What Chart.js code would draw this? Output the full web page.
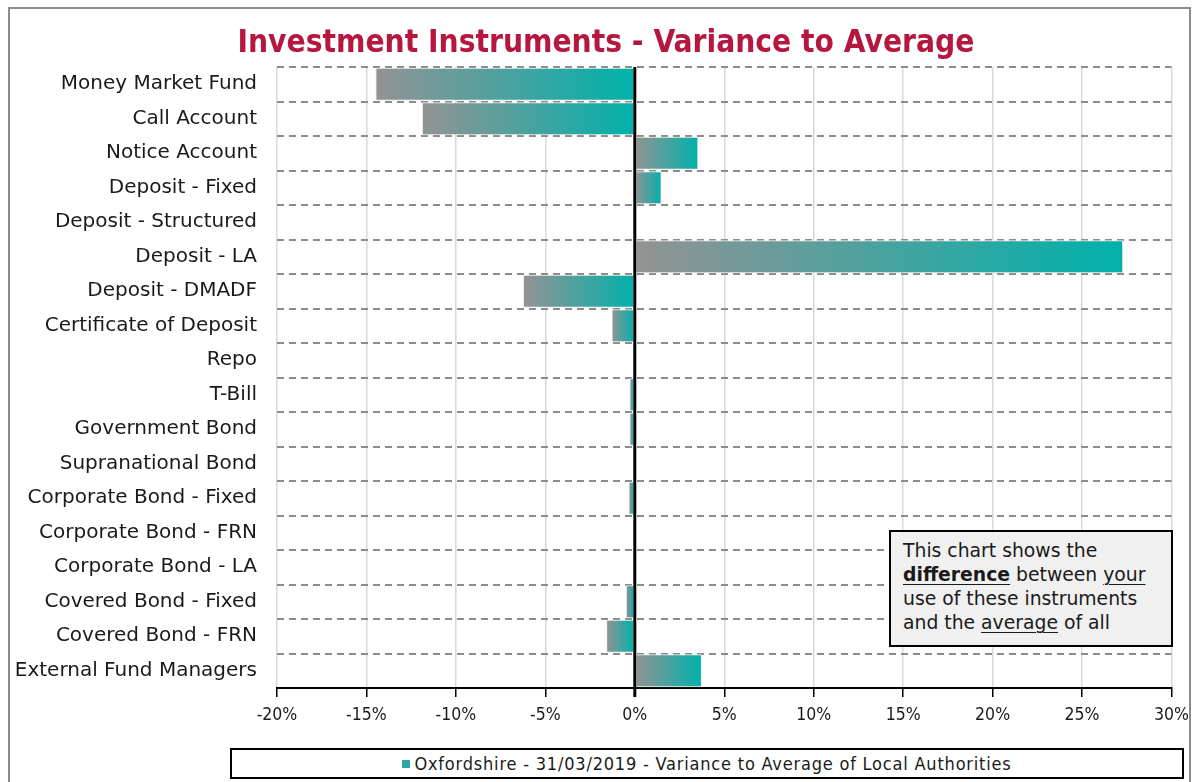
<!DOCTYPE html>
<html>
<head>
<meta charset="utf-8">
<script src="https://cdn.jsdelivr.net/npm/chart.js@4.4.1/dist/chart.umd.min.js"></script>
<style>
  body { margin: 0; background: #fff; }
  #wrap { position: relative; width: 1197px; height: 782px; overflow: hidden; }
  #frame { position: absolute; left: 8px; top: 7px; width: 1183px; height: 820px; border: 2px solid #8c8c8c; box-sizing: border-box; }
  #title { position: absolute; left: 0; width: 1212px; top: 21px; text-align: center; color: #b5173f;
           font-family: "DejaVu Sans Condensed", "DejaVu Sans", sans-serif; font-stretch: condensed; font-weight: bold; font-size: 31.4px; line-height: 40px; }
  canvas { position: absolute; left: 0; top: 0; }
  #note { position: absolute; left: 889px; top: 530px; width: 284px; height: 117px; box-sizing: border-box;
          border: 2px solid #000; background: #f0f0f0; padding: 7px 12px; color: #1a1a1a;
          font-family: "DejaVu Sans", sans-serif; font-size: 18.8px; line-height: 24px; white-space: nowrap; }
  #note u { text-decoration-thickness: 1px; text-underline-offset: 3px; }
  #legend { position: absolute; left: 230px; top: 748px; width: 954px; height: 31px; box-sizing: border-box;
            border: 2px solid #000; background: #fff; text-align: center; color: #1a1a1a;
            font-family: "DejaVu Sans Condensed", "DejaVu Sans", sans-serif; font-stretch: condensed; font-size: 18px; letter-spacing: 0.8px; line-height: 27px; }
  #legend i { display: inline-block; width: 8px; height: 8px; background: #2aa9a5; margin-right: 4px; vertical-align: 2px; }
</style>
</head>
<body>
<div id="wrap">
  <div id="frame"></div>
  <canvas id="chart" width="1197" height="782"></canvas>
  <div id="title">Investment Instruments - Variance to Average</div>
  <div id="note">This chart shows the<br><b><u>difference</u></b> between <u>your</u><br>use of these instruments<br>and the <u>average</u> of all</div>
  <div id="legend"><i></i>Oxfordshire - 31/03/2019 - Variance to Average of Local Authorities</div>
</div>
<script>
// Data
const categories = [
  'Money Market Fund', 'Call Account', 'Notice Account', 'Deposit - Fixed', 'Deposit - Structured',
  'Deposit - LA', 'Deposit - DMADF', 'Certificate of Deposit', 'Repo', 'T-Bill', 'Government Bond',
  'Supranational Bond', 'Corporate Bond - Fixed', 'Corporate Bond - FRN', 'Corporate Bond - LA',
  'Covered Bond - Fixed', 'Covered Bond - FRN', 'External Fund Managers'
];
const variance = [-14.5, -11.9, 3.55, 1.5, 0, 27.3, -6.25, -1.3, 0, -0.3, -0.3, 0, -0.35, 0, 0, -0.5, -1.6, 3.75];
const xMin = -20;
const xMax = 30;
const xStep = 5;
const seriesLabel = 'Oxfordshire - 31/03/2019 - Variance to Average of Local Authorities';

// gray -> teal gradient, left to right across each bar
function barFill(c) {
  const chart = c.chart;
  const x = chart.scales.x;
  const v = c.raw;
  if (!x || c.type !== 'data' || !Number.isFinite(v)) return '#2aa9a5';
  const x0 = x.getPixelForValue(Math.min(v, 0));
  const x1 = x.getPixelForValue(Math.max(v, 0));
  if (!Number.isFinite(x0) || !Number.isFinite(x1) || x1 - x0 < 1) return '#2aa9a5';
  const g = chart.ctx.createLinearGradient(x0, 0, x1, 0);
  g.addColorStop(0, '#939393');
  g.addColorStop(1, '#00b1ab');
  return g;
}

// black zero line on top of the bars
const zeroLine = {
  id: 'zeroLine',
  afterDatasetsDraw(chart) {
    const { ctx, chartArea, scales } = chart;
    const x = scales.x.getPixelForValue(0);
    ctx.save();
    ctx.strokeStyle = '#000';
    ctx.lineWidth = 3;
    ctx.beginPath();
    ctx.moveTo(x, chartArea.top);
    ctx.lineTo(x, chartArea.bottom + 9);
    ctx.stroke();
    ctx.restore();
  }
};

new Chart(document.getElementById('chart'), {
  type: 'bar',
  data: {
    labels: categories,
    datasets: [{
      label: seriesLabel,
      data: variance,
      backgroundColor: barFill,
      borderColor: '#eeeeee',
      borderWidth: c => (c.raw === 0 ? 0 : 1),
      borderSkipped: false,
      barPercentage: 1,
      categoryPercentage: 0.96
    }]
  },
  options: {
    indexAxis: 'y',
    responsive: false,
    animation: false,
    layout: { padding: { top: 67, right: 24, bottom: 0, left: 0 } },
    plugins: {
      legend: { display: false },
      title: { display: false },
      tooltip: { enabled: false }
    },
    scales: {
      x: {
        min: xMin,
        max: xMax,
        ticks: {
          stepSize: xStep,
          callback: v => v + '%',
          color: '#1a1a1a',
          padding: 8,
          font: { family: '"DejaVu Sans Condensed", "DejaVu Sans"', size: 17.5 }
        },
        grid: { color: '#d9d9d9', lineWidth: 1.5, tickColor: '#000', tickLength: 9 },
        border: { color: '#000', width: 2 },
        afterFit: s => { s.height = 94; }
      },
      y: {
        ticks: {
          color: '#1a1a1a',
          padding: 20,
          font: { family: '"DejaVu Sans"', size: 20 }
        },
        grid: {
          offset: true,
          drawTicks: false,
          color: c => (c.index === categories.length ? 'rgba(0,0,0,0)' : '#8c8c8c'),
          lineWidth: 2
        },
        border: { display: false, dash: [7, 5] },
        afterFit: s => { s.width = 277; }
      }
    }
  },
  plugins: [zeroLine]
});
</script>
</body>
</html>
